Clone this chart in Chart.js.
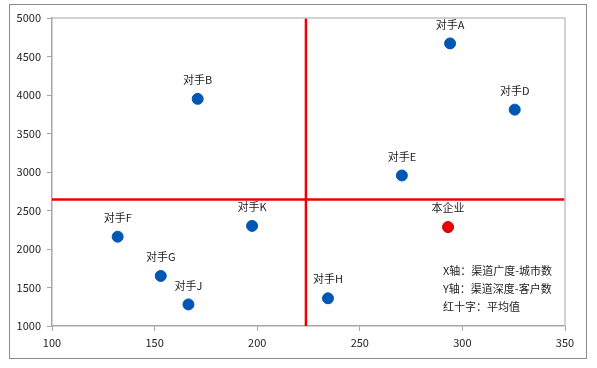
<!DOCTYPE html>
<html>
<head>
<meta charset="utf-8">
<script src="https://cdn.jsdelivr.net/npm/chart.js@4.4.0/dist/chart.umd.min.js"></script>
<style>
  html, body { margin: 0; padding: 0; background: #fff; }
  #wrap { width: 597px; height: 368px; position: relative; }
</style>
</head>
<body>
<div id="wrap"><canvas id="quadchart" width="597" height="368"></canvas></div>
<script>
const names = ['对手A', '对手D', '对手E', '对手B', '对手F', '对手G', '对手J', '对手K', '对手H', '本企业'];
const cityCount = [294, 325.5, 270.5, 171, 132, 153, 166.5, 197.5, 234.5, 293];
const clientCount = [4670, 3810, 2955, 3950, 2160, 1650, 1280, 2300, 1360, 2285];
const xTicks = [100, 150, 200, 250, 300, 350];
const yTicks = [1000, 1500, 2000, 2500, 3000, 3500, 4000, 4500, 5000];
const notes = ['X轴：渠道广度-城市数', 'Y轴：渠道深度-客户数', '红十字：平均值'];

const font = '"Noto Sans CJK SC", "Noto Sans", sans-serif';

// average of all companies -> red cross
var avgX = cityCount.reduce((a, b) => a + b, 0) / cityCount.length;
var avgY = clientCount.reduce((a, b) => a + b, 0) / clientCount.length;

var pts = names.map((n, i) => ({ x: cityCount[i], y: clientCount[i], name: n }));
var colors = names.map(n => n === '本企业' ? '#ee0000' : '#0056b3');
var borders = names.map(n => n === '本企业' ? '#c00018' : '#0056b3');

const labelPlugin = {
    id: 'labels',
    beforeDraw(chart) {
        var ctx = chart.ctx;
        ctx.save();
        ctx.fillStyle = '#fff';
        ctx.fillRect(0, 0, chart.width, chart.height);
        ctx.strokeStyle = '#8c8c8c';
        ctx.lineWidth = 1;
        ctx.strokeRect(9.5, 4.5, 577, 354);
        ctx.restore();
    },
    afterDatasetsDraw(chart) {
        var ctx = chart.ctx;
        var a = chart.chartArea;
        ctx.save();
        ctx.strokeStyle = '#c4c4c4';
        ctx.lineWidth = 1.5;
        ctx.beginPath();
        ctx.moveTo(a.left, a.top);
        ctx.lineTo(a.right, a.top);
        ctx.lineTo(a.right, a.bottom);
        ctx.stroke();

        ctx.font = '11px ' + font;
        ctx.fillStyle = '#222';
        ctx.textAlign = 'center';
        ctx.textBaseline = 'middle';
        var meta = chart.getDatasetMeta(2);
        meta.data.forEach((el, i) => {
            ctx.fillText(names[i], el.x, el.y - 19);
        });

        ctx.textAlign = 'left';
        notes.forEach((t, i) => {
            ctx.fillText(t, 443, 271 + i * 18);
        });
        ctx.restore();
    }
};

new Chart(document.getElementById('quadchart'), {
    type: 'scatter',
    data: {
        datasets: [
            {
                type: 'line',
                data: [{ x: avgX, y: 1000 }, { x: avgX, y: 5000 }],
                borderColor: '#ee0000',
                borderWidth: 2.5,
                pointRadius: 0,
                order: 2
            },
            {
                type: 'line',
                data: [{ x: 100, y: avgY }, { x: 350, y: avgY }],
                borderColor: '#ee0000',
                borderWidth: 2.5,
                pointRadius: 0,
                order: 2
            },
            {
                data: pts,
                backgroundColor: colors,
                borderColor: borders,
                borderWidth: 1,
                pointRadius: 5.5,
                order: 1
            }
        ]
    },
    options: {
        responsive: false,
        animation: false,
        layout: { padding: { top: 18, right: 32, left: 0, bottom: 0 } },
        plugins: { legend: { display: false }, tooltip: { enabled: false } },
        scales: {
            x: {
                type: 'linear',
                min: 100,
                max: 350,
                afterBuildTicks: s => { s.ticks = xTicks.map(v => ({ value: v })); },
                afterFit: s => { s.height = 42; },
                grid: { drawOnChartArea: false, tickLength: 5, color: '#a6a6a6' },
                border: { color: '#a6a6a6', width: 1.5 },
                ticks: { color: '#222', font: { size: 11, family: font }, padding: 5, callback: v => String(v) }
            },
            y: {
                type: 'linear',
                min: 1000,
                max: 5000,
                afterBuildTicks: s => { s.ticks = yTicks.map(v => ({ value: v })); },
                afterFit: s => { s.width = 52; },
                grid: { drawOnChartArea: false, tickLength: 5, color: '#a6a6a6' },
                border: { color: '#a6a6a6', width: 1.5 },
                ticks: { color: '#222', font: { size: 11, family: font }, padding: 6, callback: v => String(v) }
            }
        }
    },
    plugins: [labelPlugin]
});
</script>
</body>
</html>
